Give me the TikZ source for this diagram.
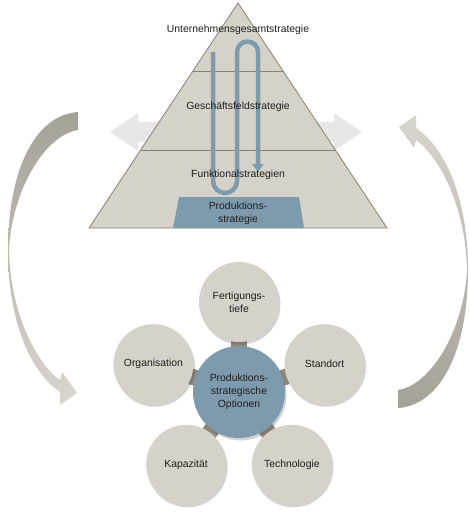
\documentclass[tikz,border=0pt]{standalone}
\usepackage{fontspec}
\setmainfont{Liberation Sans}
\usetikzlibrary{arrows.meta,shadows}
\definecolor{beige}{HTML}{D5D2CA}
\definecolor{pyrline}{HTML}{8B7F75}
\definecolor{bluegray}{HTML}{7E9BAD}
\definecolor{connc}{HTML}{8F867C}
\definecolor{lightarr}{HTML}{E7E7E7}
\definecolor{arrdark}{HTML}{A4A198}
\definecolor{arrlight}{HTML}{D8D6CE}
\pgfdeclarelayer{bg}
\pgfsetlayers{bg,main}
\begin{document}
\begin{tikzpicture}[x=1pt,y=-1pt,
  txt/.style={font=\fontsize{10.4}{13}\selectfont, text=black!88, align=center, inner sep=0pt},
  pyr/.style={fill=beige, draw=pyrline, line width=0.8pt},
  divline/.style={draw=pyrline, line width=0.8pt},
  opt/.style={circle, minimum size=80pt, inner sep=0pt, fill=beige, txt,
    drop shadow={shadow xshift=1.5pt, shadow yshift=-2.5pt, opacity=0.25, fill=black!70}},
  ctr/.style={opt, minimum size=92pt, fill=bluegray},
  conn/.style={draw=connc, line width=16pt, shorten <=-4pt, shorten >=-4pt},
  flow/.style={draw=bluegray, line width=4.5pt, -{Triangle[width=11pt,length=8pt]}},
]
\useasboundingbox (0,0) rectangle (468,513);

% wide double arrow behind the pyramid
\fill[lightarr] (110,132) -- (138,113) -- (138,122) -- (334,122) -- (334,113)
  -- (362,132) -- (334,151) -- (334,142) -- (138,142) -- (138,151) -- cycle;

% curved arrows
\shade[top color=arrdark, bottom color=arrlight]
  (78,112) .. controls (35,115) and (8,170) .. (8,250)
  .. controls (8,320) and (30,372) .. (60,392)
  -- (60,405) -- (77,393) -- (62,372) -- (60,380)
  .. controls (35,362) and (10,310) .. (9,250)
  .. controls (12,190) and (45,135) .. (78,130) -- cycle;
\shade[top color=arrlight, bottom color=arrdark]
  (398,408) .. controls (441,405) and (468,350) .. (468,270)
  .. controls (468,200) and (446,148) .. (416,128)
  -- (416,115) -- (399,127) -- (414,148) -- (416,140)
  .. controls (441,158) and (466,210) .. (467,270)
  .. controls (464,330) and (431,385) .. (398,390) -- cycle;

% pyramid
\filldraw[pyr] (238,3) -- (387,228) -- (89,228) -- cycle;
\draw[divline] (193,71) -- (283,71);
\draw[divline] (140.7,150) -- (335.3,150);
\fill[bluegray] (179,197) -- (299,197) -- (304,228) -- (173,228) -- cycle;

% flow arrow
\draw[flow] (213,52) -- (213,181) arc[start angle=180,end angle=360,radius=12pt]
  -- (237,52) arc[start angle=180,end angle=0,radius=10.5pt] -- (258,172);

% pyramid texts
\node[txt] (t1) at (238,30) {Unternehmensgesamtstrategie};
\node[txt] (t2) at (238,107) {Geschäftsfeldstrategie};
\node[txt] (t3) at (238,175) {Funktionalstrategien};
\node[txt] (t4) at (238,213) {Produktions-\\strategie};

% circles
\node[ctr] (c) at (239,392) {Produktions-\\strategische\\Optionen};
\node[opt] (o1) at (239,302) {Fertigungs-\\tiefe};
\node[opt] (o2) at (324.6,364.2) {Standort};
\node[opt] (o3) at (291.9,464.8) {Technologie};
\node[opt] (o4) at (186.1,464.8) {Kapazität};
\node[opt] (o5) at (153.4,364.2) {Organisation};

\begin{pgfonlayer}{bg}
  \foreach \o in {o1,o2,o3,o4,o5} \draw[conn] (c) -- (\o);
\end{pgfonlayer}
\end{tikzpicture}
\end{document}
